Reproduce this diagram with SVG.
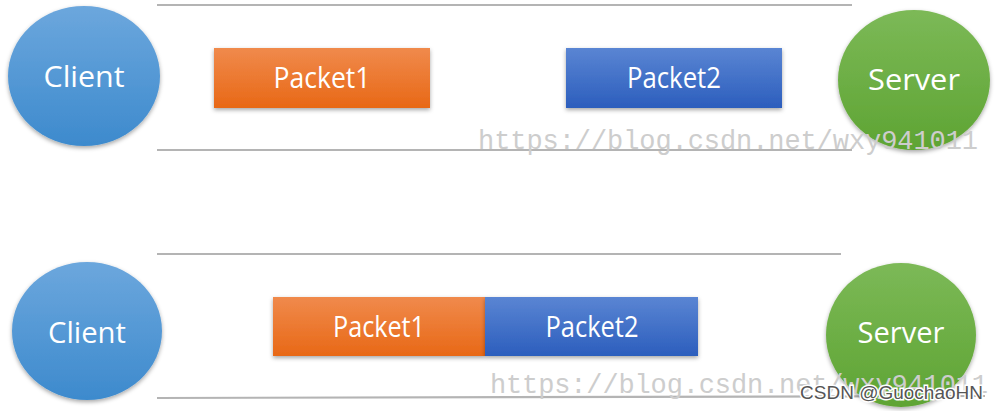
<svg xmlns="http://www.w3.org/2000/svg" width="998" height="411" viewBox="0 0 998 411">
<style>
.line{stroke:#b4b4b4;stroke-width:2.2;fill:none}
.lbl{font-family:"Open Sans","Liberation Sans",sans-serif;font-size:29px;fill:#ffffff}
.wm{font-family:"Liberation Mono","DejaVu Sans Mono",monospace;font-size:27px;fill:#cdcdcd}
.sig{font-family:"Liberation Sans",sans-serif;font-size:19px;fill:#555555;stroke:#ffffff;stroke-width:3;paint-order:stroke}
</style>
<defs>
<linearGradient id="gBlueC" x1="0" y1="0" x2="0" y2="1"><stop offset="0" stop-color="#6ca7dd"/><stop offset="1" stop-color="#3d8acd"/></linearGradient>
<linearGradient id="gGreen" x1="0" y1="0" x2="0" y2="1"><stop offset="0" stop-color="#7cb957"/><stop offset="1" stop-color="#5ea433"/></linearGradient>
<linearGradient id="gOrange" x1="0" y1="0" x2="0" y2="1"><stop offset="0" stop-color="#f08a4c"/><stop offset="1" stop-color="#e86816"/></linearGradient>
<linearGradient id="gBlueP" x1="0" y1="0" x2="0" y2="1"><stop offset="0" stop-color="#5a85d3"/><stop offset="1" stop-color="#2c5ebd"/></linearGradient>
<filter id="sh" x="-10%" y="-10%" width="120%" height="130%"><feDropShadow dx="0" dy="2" stdDeviation="2" flood-color="#000" flood-opacity="0.35"/></filter>
</defs>
<rect width="998" height="411" fill="#ffffff"/>
<g id="connectors">
<line class="line" x1="157" y1="5" x2="852" y2="5"/>
<line class="line" x1="157" y1="150" x2="852" y2="150"/>
<line class="line" x1="157" y1="254" x2="841" y2="254"/>
<line class="line" x1="157" y1="398" x2="985" y2="396"/>
</g>
<g id="client1"><ellipse cx="84" cy="76" rx="76" ry="70" fill="url(#gBlueC)" filter="url(#sh)"/><text class="lbl" x="84" y="87" text-anchor="middle" textLength="81" lengthAdjust="spacingAndGlyphs">Client</text></g>
<g id="packet1a"><rect x="214" y="48" width="216" height="60" fill="url(#gOrange)" filter="url(#sh)"/><text class="lbl" x="322" y="88" text-anchor="middle" textLength="97" lengthAdjust="spacingAndGlyphs">Packet1</text></g>
<g id="packet2a"><rect x="566" y="48" width="216" height="60" fill="url(#gBlueP)" filter="url(#sh)"/><text class="lbl" x="674" y="88" text-anchor="middle" textLength="94" lengthAdjust="spacingAndGlyphs">Packet2</text></g>
<g id="server1"><ellipse cx="914" cy="80" rx="76" ry="70" fill="url(#gGreen)" filter="url(#sh)"/><text class="lbl" x="914" y="90" text-anchor="middle" textLength="92" lengthAdjust="spacingAndGlyphs">Server</text></g>
<g id="client2"><ellipse cx="87" cy="331" rx="75" ry="69" fill="url(#gBlueC)" filter="url(#sh)"/><text class="lbl" x="87" y="343" text-anchor="middle" textLength="78" lengthAdjust="spacingAndGlyphs">Client</text></g>
<g id="packet1b"><rect x="273" y="297" width="212" height="59" fill="url(#gOrange)" filter="url(#sh)"/><text class="lbl" x="379" y="337" text-anchor="middle" textLength="92" lengthAdjust="spacingAndGlyphs">Packet1</text></g>
<g id="packet2b"><rect x="485" y="297" width="213" height="59" fill="url(#gBlueP)" filter="url(#sh)"/><text class="lbl" x="592" y="337" text-anchor="middle" textLength="93" lengthAdjust="spacingAndGlyphs">Packet2</text></g>
<g id="server2"><ellipse cx="901" cy="335" rx="75" ry="72" fill="url(#gGreen)" filter="url(#sh)"/><text class="lbl" x="901" y="343" text-anchor="middle" textLength="87" lengthAdjust="spacingAndGlyphs">Server</text></g>
<text class="wm" x="478" y="149" textLength="500">https://blog.csdn.net/wxy941011</text>
<text class="wm" x="490" y="393" textLength="498">https://blog.csdn.net/wxy941011</text>
<text class="sig" x="800" y="399" textLength="183">CSDN @GuochaoHN</text>
</svg>
